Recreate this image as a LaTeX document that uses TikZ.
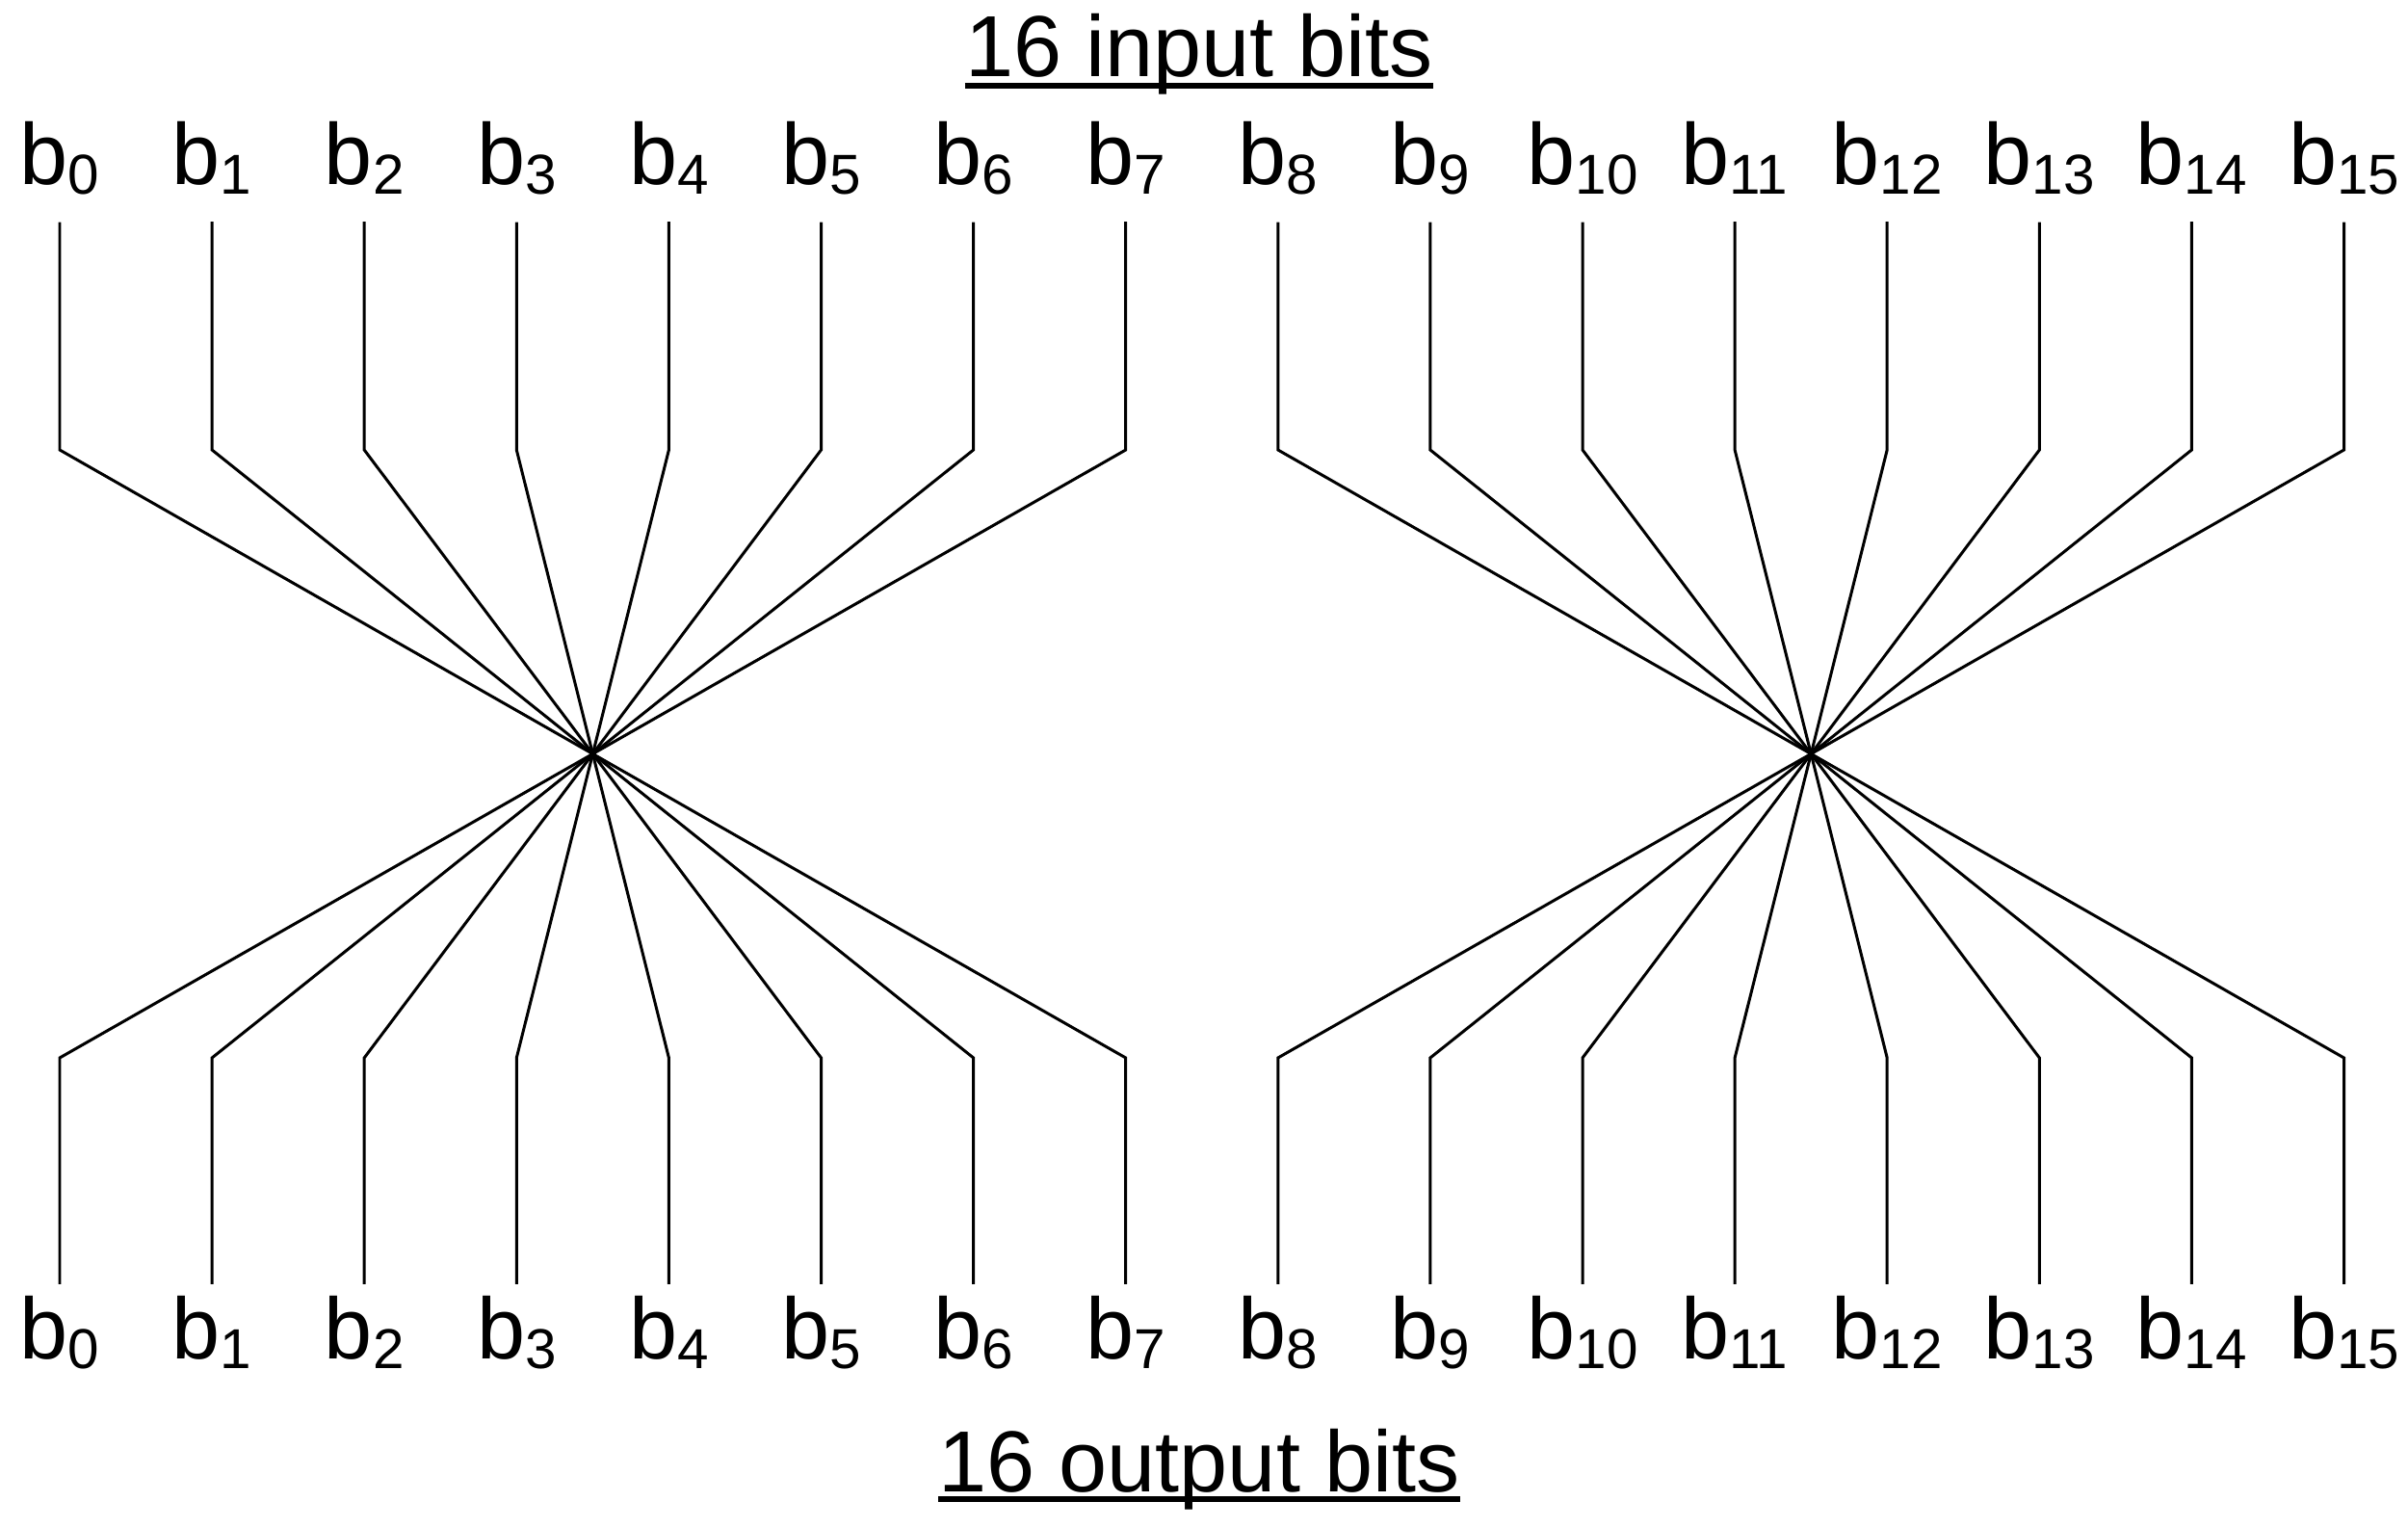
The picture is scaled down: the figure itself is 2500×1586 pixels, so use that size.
\documentclass[tikz,border=0pt]{standalone}
\usepackage{fontspec}
\setmainfont{Liberation Sans}
\usepackage{tikz}
\usetikzlibrary{calc,positioning}

% bit label with a lowered, smaller index
\newcommand{\bitlbl}[1]{b\raisebox{-0.1cm}{\fontsize{16.6pt}{19pt}\selectfont #1}}

\tikzset{
    bitfont/.style={font=\fontsize{25.6pt}{30pt}\selectfont},
    inbit/.style={bitfont, inner sep=0pt, outer xsep=0pt, outer ysep=0.28cm, anchor=base},
    outbit/.style={bitfont, inner sep=0pt, outer xsep=0pt, outer ysep=0.12cm, anchor=base},
    headline/.style={bitfont, inner sep=0pt, anchor=base},
    wire/.style={black, line width=0.85pt},
    uline/.style={black, line width=1.7pt}
}

\begin{document}
\begin{tikzpicture}[x=0.01cm,y=-0.01cm]
    \useasboundingbox (0,0) rectangle (2500,1586);

    % titles
    \node[headline] (intitle) at (1245,80) {16 input bits};
    \node[headline] (outtitle) at (1245,1548) {16 output bits};
    \draw[uline] ($(intitle.base west)+(0,9)$) -- ($(intitle.base east)+(0,9)$);
    \draw[uline] ($(outtitle.base west)+(0,8)$) -- ($(outtitle.base east)+(0,8)$);

    % bit labels, input row and output row
    \foreach \i in {0,...,15} {
        \node[inbit] (in\i) at ({62+158.1*\i},192) {\bitlbl{\i}};
        \node[outbit] (out\i) at ({62+158.1*\i},1410) {\bitlbl{\i}};
    }

    % bend rows and the two crossing points
    \coordinate (topbend) at (0,467);
    \coordinate (botbend) at (0,1098);
    \coordinate (cL) at (615.4,782.5);
    \coordinate (cR) at (1880.2,782.5);

    % wires of the first byte
    \foreach \i in {0,...,7}
        \draw[wire] (in\i.south) -- (in\i.south |- topbend) -- (cL)
            -- (out\i.north |- botbend) -- (out\i.north);

    % wires of the second byte
    \foreach \i in {8,...,15}
        \draw[wire] (in\i.south) -- (in\i.south |- topbend) -- (cR)
            -- (out\i.north |- botbend) -- (out\i.north);
\end{tikzpicture}
\end{document}
